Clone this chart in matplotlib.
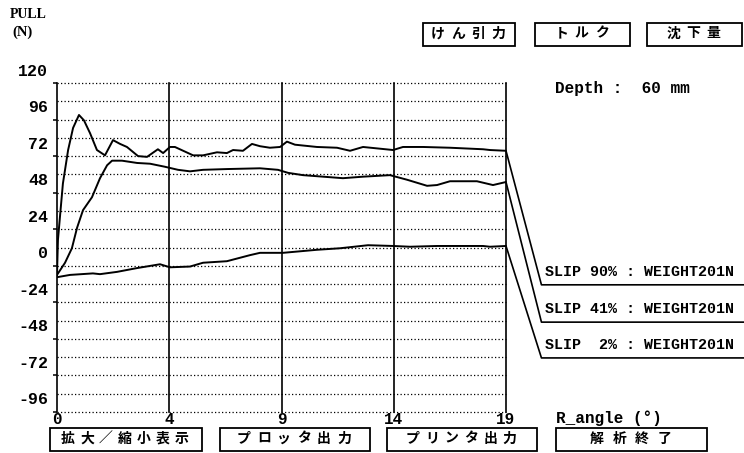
import numpy as np
import matplotlib
matplotlib.use("Agg")
import matplotlib.pyplot as plt
from matplotlib.patches import Rectangle
from matplotlib.transforms import offset_copy

x_slip90 = [0, 0.04, 0.13, 0.25, 0.47, 0.68, 0.93, 1.14, 1.40, 1.69, 2.03, 2.37, 2.67, 2.96,
            3.43, 3.81, 4.27, 4.49, 4.78, 4.99, 5.76, 6.18, 6.77, 7.19, 7.45, 7.87, 8.25, 8.59,
            9.01, 9.44, 9.73, 10.07, 11.0, 11.85, 12.4, 12.95, 14.22, 14.64, 15.49, 16.63,
            18.03, 18.32, 19.0]
y_slip90 = [-6, 17, 33, 54, 76, 90.5, 99, 95.5, 87, 76, 72.5, 82.5, 80, 78,
            72, 71.5, 76.5, 74, 78, 78, 72.5, 72.5, 74.5, 74, 76, 75.5, 80, 78.5,
            77.5, 78, 81.5, 79.5, 78, 77.5, 75.5, 78, 76, 78, 78, 77.5,
            76.5, 76, 75.5]

x_slip41 = [0, 0.34, 0.63, 0.85, 1.10, 1.48, 1.82, 2.12, 2.33, 2.75, 3.39, 3.94, 4.57, 5.12,
            5.63, 6.18, 7.19, 8.59, 9.35, 9.78, 10.41, 11.26, 12.1, 12.95, 14.09, 14.81,
            15.66, 16.08, 16.63, 17.77, 18.45, 19.0]
y_slip41 = [-6, 2, 11.5, 25, 36.5, 45, 57.5, 66, 69, 69, 67.5, 67, 65, 63,
            62, 63, 63.5, 64, 63, 61, 59.5, 58.5, 57.5, 58.5, 59.5, 56.5,
            52.5, 53, 55.5, 55.5, 53, 55]

x_slip2 = [0, 0.55, 1.52, 1.82, 2.54, 3.39, 4.36, 4.78, 5.63, 6.18, 7.19, 8.17, 8.59, 9.56,
           11.0, 11.98, 13.16, 14.22, 14.94, 16.08, 18.03, 18.32, 19.0]
y_slip2 = [-7.5, -6, -5, -5.5, -4, -1.5, 1, -1, -0.5, 2, 3, 7, 8.5, 8.5,
           10.5, 11.5, 13.5, 13, 12.5, 13, 13, 12.5, 13]

series_labels = ["SLIP 90% : WEIGHT201N", "SLIP 41% : WEIGHT201N", "SLIP  2% : WEIGHT201N"]

x_ticks = [0, 4.75, 9.5, 14.25, 19]
x_ticklabels = ["0", "4", "9", "14", "19"]
y_ticks = [120, 96, 72, 48, 24, 0, -24, -48, -72, -96]
y_ticklabels = ["120", "96", "72", "48", "24", "0", "-24", "-48", "-72", "-96"]

top_buttons = ["けん引力", "トルク", "沈下量"]
bottom_buttons = ["拡大／縮小表示", "プロッタ出力", "プリンタ出力", "解析終了"]

W, H = 744, 453
MONO = "Liberation Mono"
CJK = "Noto Sans CJK JP"

fig = plt.figure(figsize=(W / 100, H / 100), dpi=100)
fig.patch.set_facecolor("white")
ax = fig.add_axes([57 / W, 1 - 412 / H, 449 / W, 329 / H])
ax.set_xlim(0, 19)
ax.set_ylim(-96, 120)
for s in ax.spines.values():
    s.set_visible(False)

# dotted rows every 12 N, solid columns at the x ticks
for v in np.arange(-96, 121, 12):
    ax.axhline(v, color="black", lw=0.9, ls=(0, (1, 1.8)), clip_on=False)
for v in x_ticks:
    ax.axvline(v, color="black", lw=1.2, clip_on=False)

ax.set_yticks(y_ticks)
ax.set_yticklabels([])
ax.tick_params(axis="y", length=3, width=1.1, direction="out", color="black")
ax.set_xticks(x_ticks, x_ticklabels)
ax.tick_params(axis="x", length=0, pad=0)
for lab in ax.get_xticklabels():
    lab.set_fontfamily(MONO)
    lab.set_fontweight("bold")
    lab.set_fontsize(11.5)

ylab_tr = offset_copy(ax.get_yaxis_transform(), fig=fig, x=-9, y=12, units="dots")
for v, t in zip(y_ticks, y_ticklabels):
    ax.text(0, v, t, transform=ylab_tr, ha="right", va="center",
            family=MONO, fontweight="bold", fontsize=12)

# curves and their leader lines to the labels
LEAD_X, LEAD_END = 20.5, 29.05
lead_levels = [-12.5, -37, -60.5]
for xs, ys, lab, lvl in zip([x_slip90, x_slip41, x_slip2], [y_slip90, y_slip41, y_slip2],
                            series_labels, lead_levels):
    ax.plot(xs, ys, color="black", lw=1.4)
    ax.plot([xs[-1], LEAD_X, LEAD_END], [ys[-1], lvl, lvl], color="black", lw=1.2, clip_on=False)
    ax.text(20.65, lvl + 8.5, lab, ha="left", va="center", family=MONO,
            fontweight="bold", fontsize=10.8, clip_on=False)


def px(x, y):
    return x / W, 1 - y / H


def button(x0, y0, x1, y1, text, pitch):
    fig.patches.append(Rectangle(px(x0, y1), (x1 - x0) / W, (y1 - y0) / H,
                                 transform=fig.transFigure, fill=False,
                                 edgecolor="black", lw=1.3))
    cx, cy = (x0 + x1) / 2 - 1, (y0 + y1) / 2 - 1
    n = len(text)
    for i, ch in enumerate(text):
        fig.text(*px(cx + (i - (n - 1) / 2) * pitch, cy), ch, ha="center", va="center",
                 family=CJK, fontweight="bold", fontsize=10)


top_boxes = [(423, 23, 515, 46), (535, 23, 630, 46), (647, 23, 742, 46)]
for (x0, y0, x1, y1), t in zip(top_boxes, top_buttons):
    button(x0, y0, x1, y1, t, 20)
bottom_boxes = [(50, 428, 202, 451), (220, 428, 370, 451), (387, 428, 537, 451), (556, 428, 707, 451)]
for (x0, y0, x1, y1), t, p in zip(bottom_boxes, bottom_buttons, [19, 20, 19.5, 22.5]):
    button(x0, y0, x1, y1, t, p)

fig.text(*px(10, 15), "PULL", ha="left", va="center", family="Liberation Serif",
         fontweight="bold", fontsize=10)
fig.text(*px(12, 32), "(N)", ha="left", va="center", family="Liberation Serif",
         fontweight="bold", fontsize=10.5)
fig.text(*px(555, 88), "Depth :  60 mm", ha="left", va="center", family=MONO,
         fontweight="bold", fontsize=11.5)
fig.text(*px(556, 418), "R_angle (°)", ha="left", va="center", family=MONO,
         fontweight="bold", fontsize=11.5)

fig.savefig("out.png", dpi=100, facecolor="white")
